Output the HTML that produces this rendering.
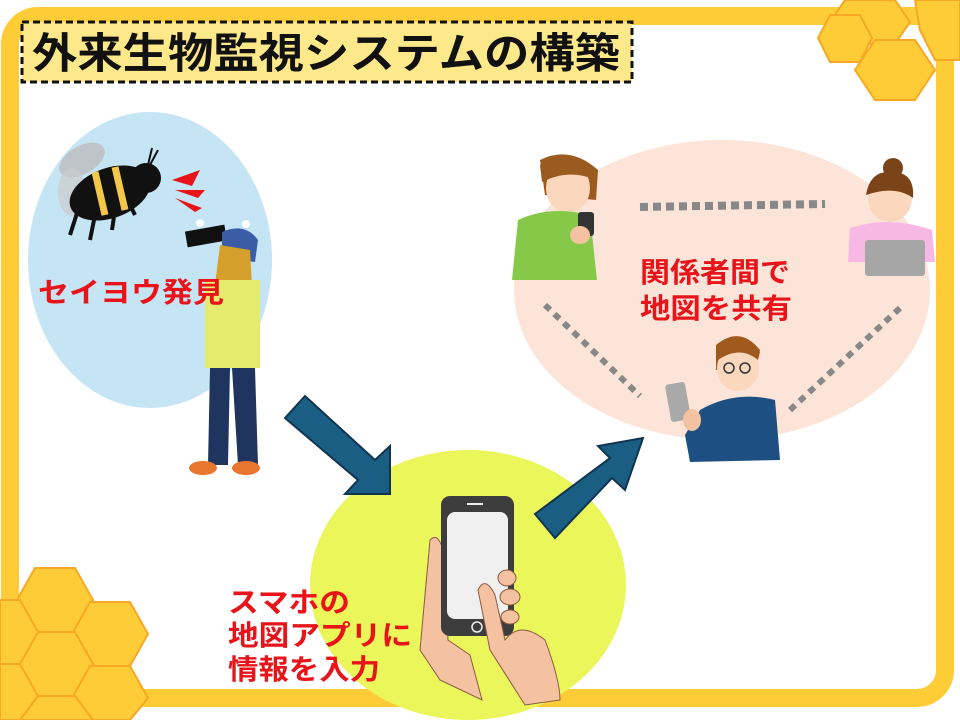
<!DOCTYPE html>
<html><head><meta charset="utf-8"><style>
html,body{margin:0;padding:0;background:#fff;}
svg{display:block}
text{font-family:"Liberation Sans","Noto Sans CJK JP",sans-serif;font-weight:bold;}
</style></head><body>
<svg width="960" height="720" viewBox="0 0 960 720" xmlns="http://www.w3.org/2000/svg">
<rect x="0" y="0" width="960" height="720" fill="#fff"/>
<rect x="10" y="16" width="935" height="682" rx="28" fill="none" stroke="#fecc36" stroke-width="18"/>
<g fill="#fecc36" stroke="#f9a825" stroke-width="2">
<polygon points="845,0 895,0 910,22 895,44 845,44 830,22"/>
<polygon points="875,40 915,40 935,70 915,100 875,100 855,70"/>
<polygon points="830,15 860,15 872,38 860,62 830,62 818,38"/>
<polygon points="915,0 960,0 960,60 935,60 920,30"/>
</g>
<g fill="#fecc36" stroke="#f9a825" stroke-width="2">
<polygon points="35,568 75,568 93,600 75,632 35,632 17,600"/>
<polygon points="90,602 130,602 148,634 130,666 90,666 72,634"/>
<polygon points="35,632 75,632 93,664 75,696 35,696 17,664"/>
<polygon points="0,600 20,600 38,632 20,664 0,664"/>
<polygon points="90,666 130,666 148,698 130,720 90,720 72,698"/>
<polygon points="35,696 75,696 93,720 17,720"/>
<polygon points="0,664 20,664 38,696 20,720 0,720"/>
</g>
<rect x="22" y="22" width="610" height="60" fill="#fde98a" stroke="#111" stroke-width="3" stroke-dasharray="7,4"/>
<text x="32" y="68" font-size="42" fill="#111" textLength="588" lengthAdjust="spacingAndGlyphs">外来生物監視システムの構築</text>
<ellipse cx="150" cy="260" rx="122" ry="148" fill="#c5e5f5"/>
<ellipse cx="722" cy="290" rx="208" ry="150" fill="#fce4d8"/>
<ellipse cx="468" cy="585" rx="158" ry="135" fill="#eaf65a"/>
<g>
<ellipse cx="82" cy="160" rx="25" ry="14" fill="#bbb" opacity="0.8" transform="rotate(-30 82 160)"/>
<ellipse cx="72" cy="192" rx="14" ry="24" fill="#ccc" opacity="0.7"/>
<ellipse cx="110" cy="193" rx="42" ry="25" fill="#111" transform="rotate(-20 110 193)"/>
<path d="M95,172 L105,215 M115,167 L125,210" stroke="#f3c84a" stroke-width="7"/>
<circle cx="146" cy="178" r="15" fill="#111"/>
<path d="M78,210 L70,235 M95,215 L90,240 M115,210 L112,230 M130,205 L135,215" stroke="#111" stroke-width="4"/>
<path d="M148,165 L152,148 M150,165 L158,150" stroke="#111" stroke-width="2"/>
</g>
<path d="M172,180 L200,170 L192,186 Z M175,190 L205,190 L198,198 Z M175,198 L202,208 L195,212 Z" fill="#e8141a"/>
<g>
<rect x="186" y="228" width="40" height="16" fill="#111" transform="rotate(-10 206 236)"/>
<path d="M222,232 Q245,222 258,240 L255,262 L222,258 Z" fill="#3b5da8"/>
<path d="M220,245 L250,250 L252,285 L215,285 Z" fill="#d49f2a"/>
<rect x="205" y="280" width="55" height="88" fill="#e3ec6d"/>
<path d="M210,368 L230,368 L228,465 L208,465 Z M232,368 L255,368 L258,465 L238,465 Z" fill="#1f3560"/>
<ellipse cx="203" cy="468" rx="14" ry="7" fill="#e8762f"/>
<ellipse cx="246" cy="468" rx="14" ry="7" fill="#e8762f"/>
<circle cx="200" cy="223" r="4" fill="#fff"/><circle cx="246" cy="224" r="4" fill="#fff"/>
</g>
<text x="38" y="302" font-size="28" fill="#e8141a" textLength="186" lengthAdjust="spacingAndGlyphs">セイヨウ発見</text>
<polygon points="285,418 305,396 375,460 390,446 390,494 345,494 358,480" fill="#1a5e84" stroke="#0f3550" stroke-width="2"/>
<polygon points="535,514 555,538 612,478 625,490 643,438 598,446 610,458" fill="#1a5e84" stroke="#0f3550" stroke-width="2"/>
<path d="M430,540 Q440,530 445,560 L448,640 L470,655 L482,700 L440,680 L420,650 Z" fill="#f4c2a1" stroke="#8a5a40" stroke-width="1"/>
<rect x="441" y="496" width="73" height="140" rx="9" fill="#3d3d3d"/>
<rect x="447" y="512" width="61" height="107" rx="8" fill="#f0f0f0"/>
<rect x="467" y="503" width="16" height="2" fill="#eee"/>
<circle cx="477" cy="627" r="5" fill="none" stroke="#eee" stroke-width="1.5"/>
<path d="M478,590 Q485,575 495,595 L505,640 Q520,620 545,640 Q560,680 560,700 L525,705 L490,650 Z" fill="#f4c2a1" stroke="#8a5a40" stroke-width="1"/>
<ellipse cx="507" cy="578" rx="9" ry="8" fill="#f4c2a1" stroke="#8a5a40"/>
<ellipse cx="510" cy="597" rx="10" ry="8" fill="#f4c2a1" stroke="#8a5a40"/>
<ellipse cx="510" cy="617" rx="9" ry="7" fill="#f4c2a1" stroke="#8a5a40"/>
<text x="228" y="612" font-size="28" fill="#e8141a" textLength="122" lengthAdjust="spacingAndGlyphs">スマホの</text>
<text x="228" y="645" font-size="28" fill="#e8141a" textLength="184" lengthAdjust="spacingAndGlyphs">地図アプリに</text>
<text x="228" y="679" font-size="28" fill="#e8141a" textLength="152" lengthAdjust="spacingAndGlyphs">情報を入力</text>
<line x1="640" y1="207" x2="825" y2="204" stroke="#888" stroke-width="8" stroke-dasharray="8,5"/>
<line x1="545" y1="305" x2="640" y2="396" stroke="#888" stroke-width="6" stroke-dasharray="7,6"/>
<line x1="900" y1="308" x2="790" y2="410" stroke="#888" stroke-width="6" stroke-dasharray="7,6"/>
<path d="M540,160 Q570,145 598,170 L596,200 L545,195 Z" fill="#9b5a1e"/>
<ellipse cx="568" cy="188" rx="22" ry="25" fill="#fbd7bd"/>
<path d="M540,165 Q570,150 598,172 L595,180 Q570,168 542,182 Z" fill="#9b5a1e"/>
<path d="M518,220 Q550,205 590,215 L597,280 L512,280 Z" fill="#86c949"/>
<rect x="578" y="212" width="16" height="24" rx="3" fill="#333"/>
<ellipse cx="580" cy="235" rx="10" ry="9" fill="#f4c2a1"/>
<circle cx="893" cy="168" r="10" fill="#7a4318"/>
<ellipse cx="890" cy="198" rx="22" ry="24" fill="#fbd7bd"/>
<path d="M866,195 Q870,170 892,172 Q915,172 913,198 Q895,185 866,195 Z" fill="#7a4318"/>
<path d="M850,228 Q890,215 932,230 L935,262 L848,262 Z" fill="#f7b8e6"/>
<rect x="865" y="240" width="60" height="36" rx="3" fill="#a6a6a6"/>
<path d="M716,345 Q740,325 760,350 L755,370 L716,370 Z" fill="#a05a1e"/>
<ellipse cx="738" cy="368" rx="21" ry="23" fill="#fbd7bd"/>
<path d="M716,348 Q740,330 760,352 L758,360 Q740,345 718,360 Z" fill="#a05a1e"/>
<circle cx="729" cy="368" r="5" fill="none" stroke="#333" stroke-width="1.5"/>
<circle cx="745" cy="368" r="5" fill="none" stroke="#333" stroke-width="1.5"/>
<path d="M700,410 Q735,390 775,400 L780,460 L690,462 L685,435 Z" fill="#1e4f82"/>
<rect x="668" y="383" width="20" height="38" rx="3" fill="#a9a9a9" transform="rotate(-10 678 402)"/>
<ellipse cx="692" cy="420" rx="9" ry="11" fill="#f4c2a1"/>
<text x="640" y="282" font-size="28" fill="#e8141a" textLength="150" lengthAdjust="spacingAndGlyphs">関係者間で</text>
<text x="640" y="318" font-size="28" fill="#e8141a" textLength="152" lengthAdjust="spacingAndGlyphs">地図を共有</text>
</svg>
</body></html>
